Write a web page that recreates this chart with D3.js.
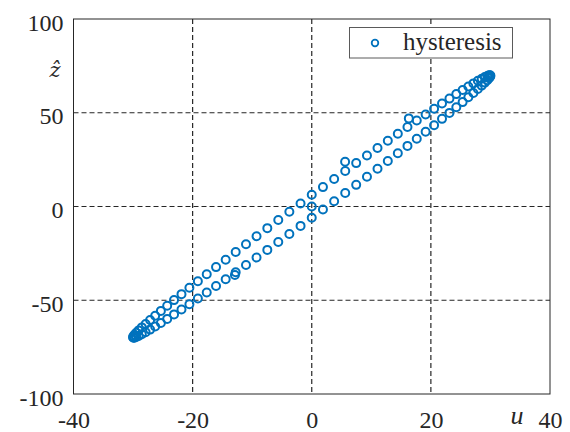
<!DOCTYPE html>
<html>
<head>
<meta charset="utf-8">
<script src="https://cdn.jsdelivr.net/npm/d3@7"></script>
<style>
  html, body { margin: 0; padding: 0; background: #fff; }
  svg { display: block; }
</style>
</head>
<body>
<svg id="chart" width="570" height="432"></svg>
<script>
// ---- data ----
const xTicks = [-40, -20, 0, 20, 40];
const yTicks = [-100, -50, 0, 50, 100];
const seriesName = "hysteresis";

// steady-state loop (u, z-hat)
const loopU = [
  0, 1.88, 3.76, 5.62, 7.46, 9.27, 11.04, 12.77, 14.45, 16.07,
  17.63, 19.12, 20.54, 21.87, 23.12, 24.27, 25.33, 26.29, 27.14, 27.89,
  28.53, 29.06, 29.47, 29.76, 29.94, 30, 29.94, 29.76, 29.47, 29.06,
  28.53, 27.89, 27.14, 26.29, 25.33, 24.27, 23.12, 21.87, 20.54, 19.12,
  17.63, 16.07, 14.45, 12.77, 11.04, 9.27, 7.46, 5.62, 3.76, 1.88,
  0, -1.88, -3.76, -5.62, -7.46, -9.27, -11.04, -12.77, -14.45, -16.07,
  -17.63, -19.12, -20.54, -21.87, -23.12, -24.27, -25.33, -26.29, -27.14, -27.89,
  -28.53, -29.06, -29.47, -29.76, -29.94, -30, -29.94, -29.76, -29.47, -29.06,
  -28.53, -27.89, -27.14, -26.29, -25.33, -24.27, -23.12, -21.87, -20.54, -19.12,
  -17.63, -16.07, -14.45, -12.77, -11.04, -9.27, -7.46, -5.62, -3.76, -1.88
];
const loopZ = [
  6.3, 10.35, 14.67, 18.94, 23.14, 27.24, 31.23, 35.11, 38.84, 42.42,
  45.83, 49.06, 52.10, 54.93, 57.55, 59.94, 62.09, 64.00, 65.65, 67.05,
  68.18, 69.04, 69.63, 69.94, 69.98, 69.74, 69.23, 68.44, 67.39, 66.07,
  64.48, 62.65, 60.56, 58.24, 55.68, 52.91, 49.93, 46.75, 43.38, 39.85,
  36.16, 32.32, 28.36, 24.29, 20.12, 15.87, 11.55, 7.20, 2.81, -1.59,
  -5.98, -10.35, -14.67, -18.94, -23.14, -27.24, -31.23, -35.11, -38.84, -42.42,
  -45.83, -49.06, -52.10, -54.93, -57.55, -59.94, -62.09, -64.00, -65.65, -67.05,
  -68.18, -69.04, -69.63, -69.94, -69.98, -69.74, -69.23, -68.44, -67.39, -66.07,
  -64.48, -62.65, -60.56, -58.24, -55.68, -52.91, -49.93, -46.75, -43.38, -39.85,
  -36.16, -32.32, -28.36, -24.29, -20.12, -15.87, -11.55, -7.20, -2.81, 1.59
];
// transient (first-cycle) points
const transientU = [0, 5.6, 16.3, -12.9];
const transientZ = [0, 23.9, 47.0, -36.5];

// ---- layout ----
const svg = d3.select("#chart");
const mLeft = 73.5, mRight = 550, mTop = 19, mBottom = 394;
const x = d3.scaleLinear().domain([-40, 40]).range([mLeft, mRight]);
const y = d3.scaleLinear().domain([-100, 100]).range([mBottom, mTop]);
const ink = "#262626";
const blue = "#0072BD";
const font = "'Liberation Serif', 'DejaVu Serif', serif";

// grid
const grid = svg.append("g");
grid.selectAll("line.gx").data(xTicks.slice(1, -1)).join("line")
  .attr("x1", d => x(d)).attr("x2", d => x(d))
  .attr("y1", mTop).attr("y2", mBottom)
  .attr("stroke", ink).attr("stroke-width", 1.2).attr("stroke-dasharray", "5,3");
grid.selectAll("line.gy").data(yTicks.slice(1, -1)).join("line")
  .attr("y1", d => y(d)).attr("y2", d => y(d))
  .attr("x1", mLeft).attr("x2", mRight)
  .attr("stroke", ink).attr("stroke-width", 1.2).attr("stroke-dasharray", "5,3");

// box
svg.append("rect").attr("x", mLeft).attr("y", mTop)
  .attr("width", mRight - mLeft).attr("height", mBottom - mTop)
  .attr("fill", "none").attr("stroke", ink).attr("stroke-width", 1);

// axes (labels only, via d3 axis)
const xAxis = d3.axisBottom(x).tickValues(xTicks).tickSize(0).tickPadding(0)
  .tickFormat(d => String(d));
const gx = svg.append("g").attr("transform", `translate(0,${mBottom})`).call(xAxis);
gx.select(".domain").remove();
gx.selectAll("text").attr("font-family", font).attr("font-size", 24)
  .attr("fill", ink).attr("dy", null).attr("y", 34);

const yAxis = d3.axisLeft(y).tickValues(yTicks).tickSize(0).tickPadding(10)
  .tickFormat(d => String(d));
const gy = svg.append("g").attr("transform", `translate(${mLeft},0)`).call(yAxis);
gy.select(".domain").remove();
gy.selectAll("text").attr("font-family", font).attr("font-size", 24)
  .attr("fill", ink).attr("dy", "0.38em").attr("y", 2);

// axis titles
svg.append("text").attr("x", 517).attr("y", 424).attr("text-anchor", "middle")
  .attr("font-family", font).attr("font-style", "italic").attr("font-size", 26)
  .attr("fill", ink).text("u");
svg.append("text").attr("x", 55).attr("y", 77).attr("text-anchor", "middle")
  .attr("font-family", "'DejaVu Serif', serif").attr("font-style", "italic")
  .attr("font-size", 21).attr("fill", ink).text("\u1E91");

// points
const pts = loopU.map((u, i) => ({u, z: loopZ[i]}))
  .concat(transientU.map((u, i) => ({u, z: transientZ[i]})));
svg.append("g").selectAll("circle").data(pts).join("circle")
  .attr("cx", d => x(d.u)).attr("cy", d => y(d.z)).attr("r", 4)
  .attr("fill", "none").attr("stroke", blue).attr("stroke-width", 2);

// legend
const lg = svg.append("g");
lg.append("rect").attr("x", 349.5).attr("y", 27.5).attr("width", 163).attr("height", 30.5)
  .attr("fill", "#fff").attr("stroke", "#5a5a5a").attr("stroke-width", 1);
lg.append("circle").attr("cx", 375).attr("cy", 43).attr("r", 3.3)
  .attr("fill", "none").attr("stroke", blue).attr("stroke-width", 1.8);
lg.append("text").attr("x", 403).attr("y", 50)
  .attr("font-family", font).attr("font-size", 25).attr("fill", ink).text(seriesName);
</script>
</body>
</html>
